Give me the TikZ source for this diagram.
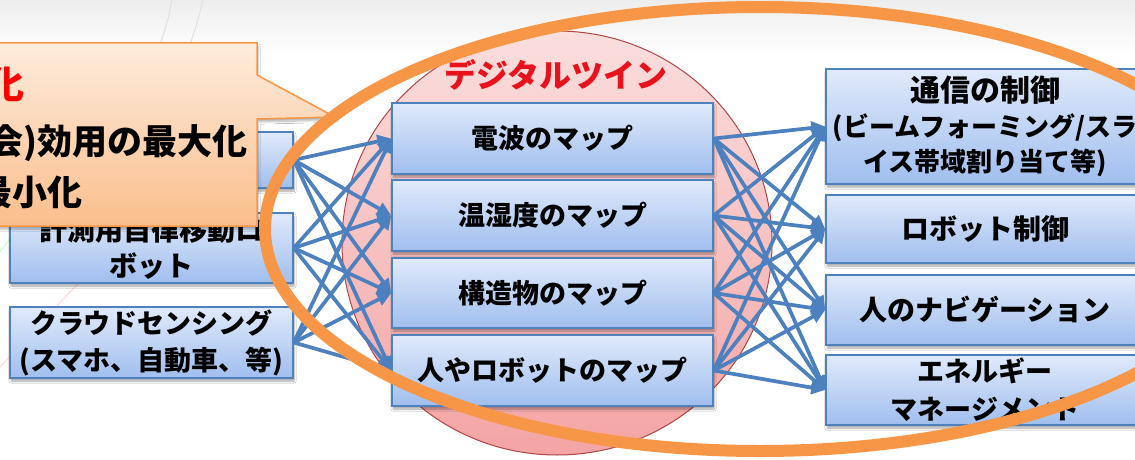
\documentclass[tikz,border=0pt]{standalone}
\usepackage{fontspec}
\setmainfont{Noto Sans CJK JP}
\usetikzlibrary{arrows.meta,shadows.blur}
\definecolor{boxline}{RGB}{79,129,189}
\definecolor{boxtop}{RGB}{224,234,251}
\definecolor{boxbot}{RGB}{160,190,238}
\definecolor{arrowc}{RGB}{76,128,190}
\definecolor{orng}{RGB}{247,150,70}
\definecolor{calltop}{RGB}{253,236,220}
\definecolor{callbot}{RGB}{250,190,140}
\definecolor{pinktop}{RGB}{251,222,222}
\definecolor{pinkbot}{RGB}{244,164,164}
\definecolor{pinkline}{RGB}{175,70,70}
\definecolor{titlered}{RGB}{232,18,28}
\tikzset{
  box/.style={draw=boxline, line width=1.5pt, top color=boxtop, bottom color=boxbot,
    align=center, inner sep=0pt, font=\bfseries,
    blur shadow={shadow xshift=1pt, shadow yshift=-3pt, shadow blur steps=6, shadow opacity=35}},
  link/.style={draw=arrowc, line width=3.7pt, -{Triangle[length=14pt,width=13pt]}},
  calltext/.style={anchor=east, inner sep=0pt, font=\bfseries\fontsize{35}{40}\selectfont},
}
\begin{document}
\begin{tikzpicture}[x=1pt,y=-1pt]
\useasboundingbox (0,0) rectangle (1135,460);
\fill[white] (0,0) rectangle (1135,460);
\shade[top color=black!7, bottom color=white] (0,0) rectangle (1135,55);
% faint background strokes
\draw[black!12, line width=1pt] (172,0) .. controls (168,20) .. (160,45);
\draw[black!12, line width=1pt] (203,0) .. controls (198,20) .. (190,45);
\draw[red!15, line width=1pt] (0,367) -- (85,276);
\draw[green!25, line width=1pt] (0,252) -- (10,238);
% digital twin area
\path[draw=pinkline, line width=1pt, top color=pinktop, bottom color=pinkbot]
  (557,243) ellipse [x radius=215pt, y radius=212pt];
\node[font=\bfseries\fontsize{32}{36}\selectfont, text=titlered] (title) at (556,75) {デジタルツイン};
% left boxes
\node[box, minimum width=283pt, minimum height=56pt] (L1) at (151.5,160) {};
\node[box, minimum width=283pt, minimum height=70pt, font=\bfseries\fontsize{28}{36}\selectfont] (L2) at (151.5,248) {計測用自律移動ロ\\ボット};
\node[box, minimum width=283pt, minimum height=71pt, font=\bfseries\fontsize{27}{37}\selectfont] (L3) at (151.5,342.5) {クラウドセンシング\\(スマホ、自動車、等)};
% middle boxes
\node[box, minimum width=321pt, minimum height=71pt, font=\bfseries\fontsize{27}{34}\selectfont] (M1) at (552.5,138.5) {電波のマップ};
\node[box, minimum width=321pt, minimum height=71pt, font=\bfseries\fontsize{27}{34}\selectfont] (M2) at (552.5,215.5) {温湿度のマップ};
\node[box, minimum width=321pt, minimum height=70pt, font=\bfseries\fontsize{27}{34}\selectfont] (M3) at (552.5,293) {構造物のマップ};
\node[box, minimum width=321pt, minimum height=71pt, font=\bfseries\fontsize{27}{34}\selectfont] (M4) at (552.5,370.5) {人やロボットのマップ};
% right boxes
\node[box, minimum width=318pt, minimum height=115pt, font=\bfseries\fontsize{26}{35}\selectfont] (R1) at (985,126.5) {{\fontsize{30}{35}\selectfont 通信の制御}\\(ビームフォーミング/スラ\\イス帯域割り当て等)};
\node[box, minimum width=318pt, minimum height=68pt, font=\bfseries\fontsize{28}{34}\selectfont] (R2) at (985,229) {ロボット制御};
\node[box, minimum width=318pt, minimum height=70pt, font=\bfseries\fontsize{28}{34}\selectfont] (R3) at (985,310) {人のナビゲーション};
\node[box, minimum width=318pt, minimum height=70pt, font=\bfseries\fontsize{27}{38}\selectfont] (R4) at (985,390) {エネルギー\\マネージメント};
% connectors
\foreach \s in {L1,L2,L3} \foreach \t in {M1,M2,M3,M4} \draw[link] (\s.east) -- (\t.west);
\foreach \s in {M1,M2,M3,M4} \foreach \t in {R1,R2,R3,R4} \draw[link] (\s.east) -- (\t.west);
% callout
\path[draw=orng, line width=1.5pt, top color=calltop, bottom color=callbot,
  blur shadow={shadow xshift=1pt, shadow yshift=-3pt, shadow blur steps=6, shadow opacity=30}]
  (-20,43) -- (257,43) -- (257,75) -- (335,117) -- (257,119) -- (257,226) -- (-20,226) -- cycle;
\node[calltext, text=red, font=\bfseries\fontsize{38}{40}\selectfont] (c1) at (25,84) {化};
\node[calltext] (c2) at (248,143) {会)効用の最大化};
\node[calltext] (c3) at (83,192) {最小化};
% orange ellipse
\draw[orng, line width=12pt] (760,229) ellipse [x radius=495pt, y radius=222pt];
\end{tikzpicture}
\end{document}
